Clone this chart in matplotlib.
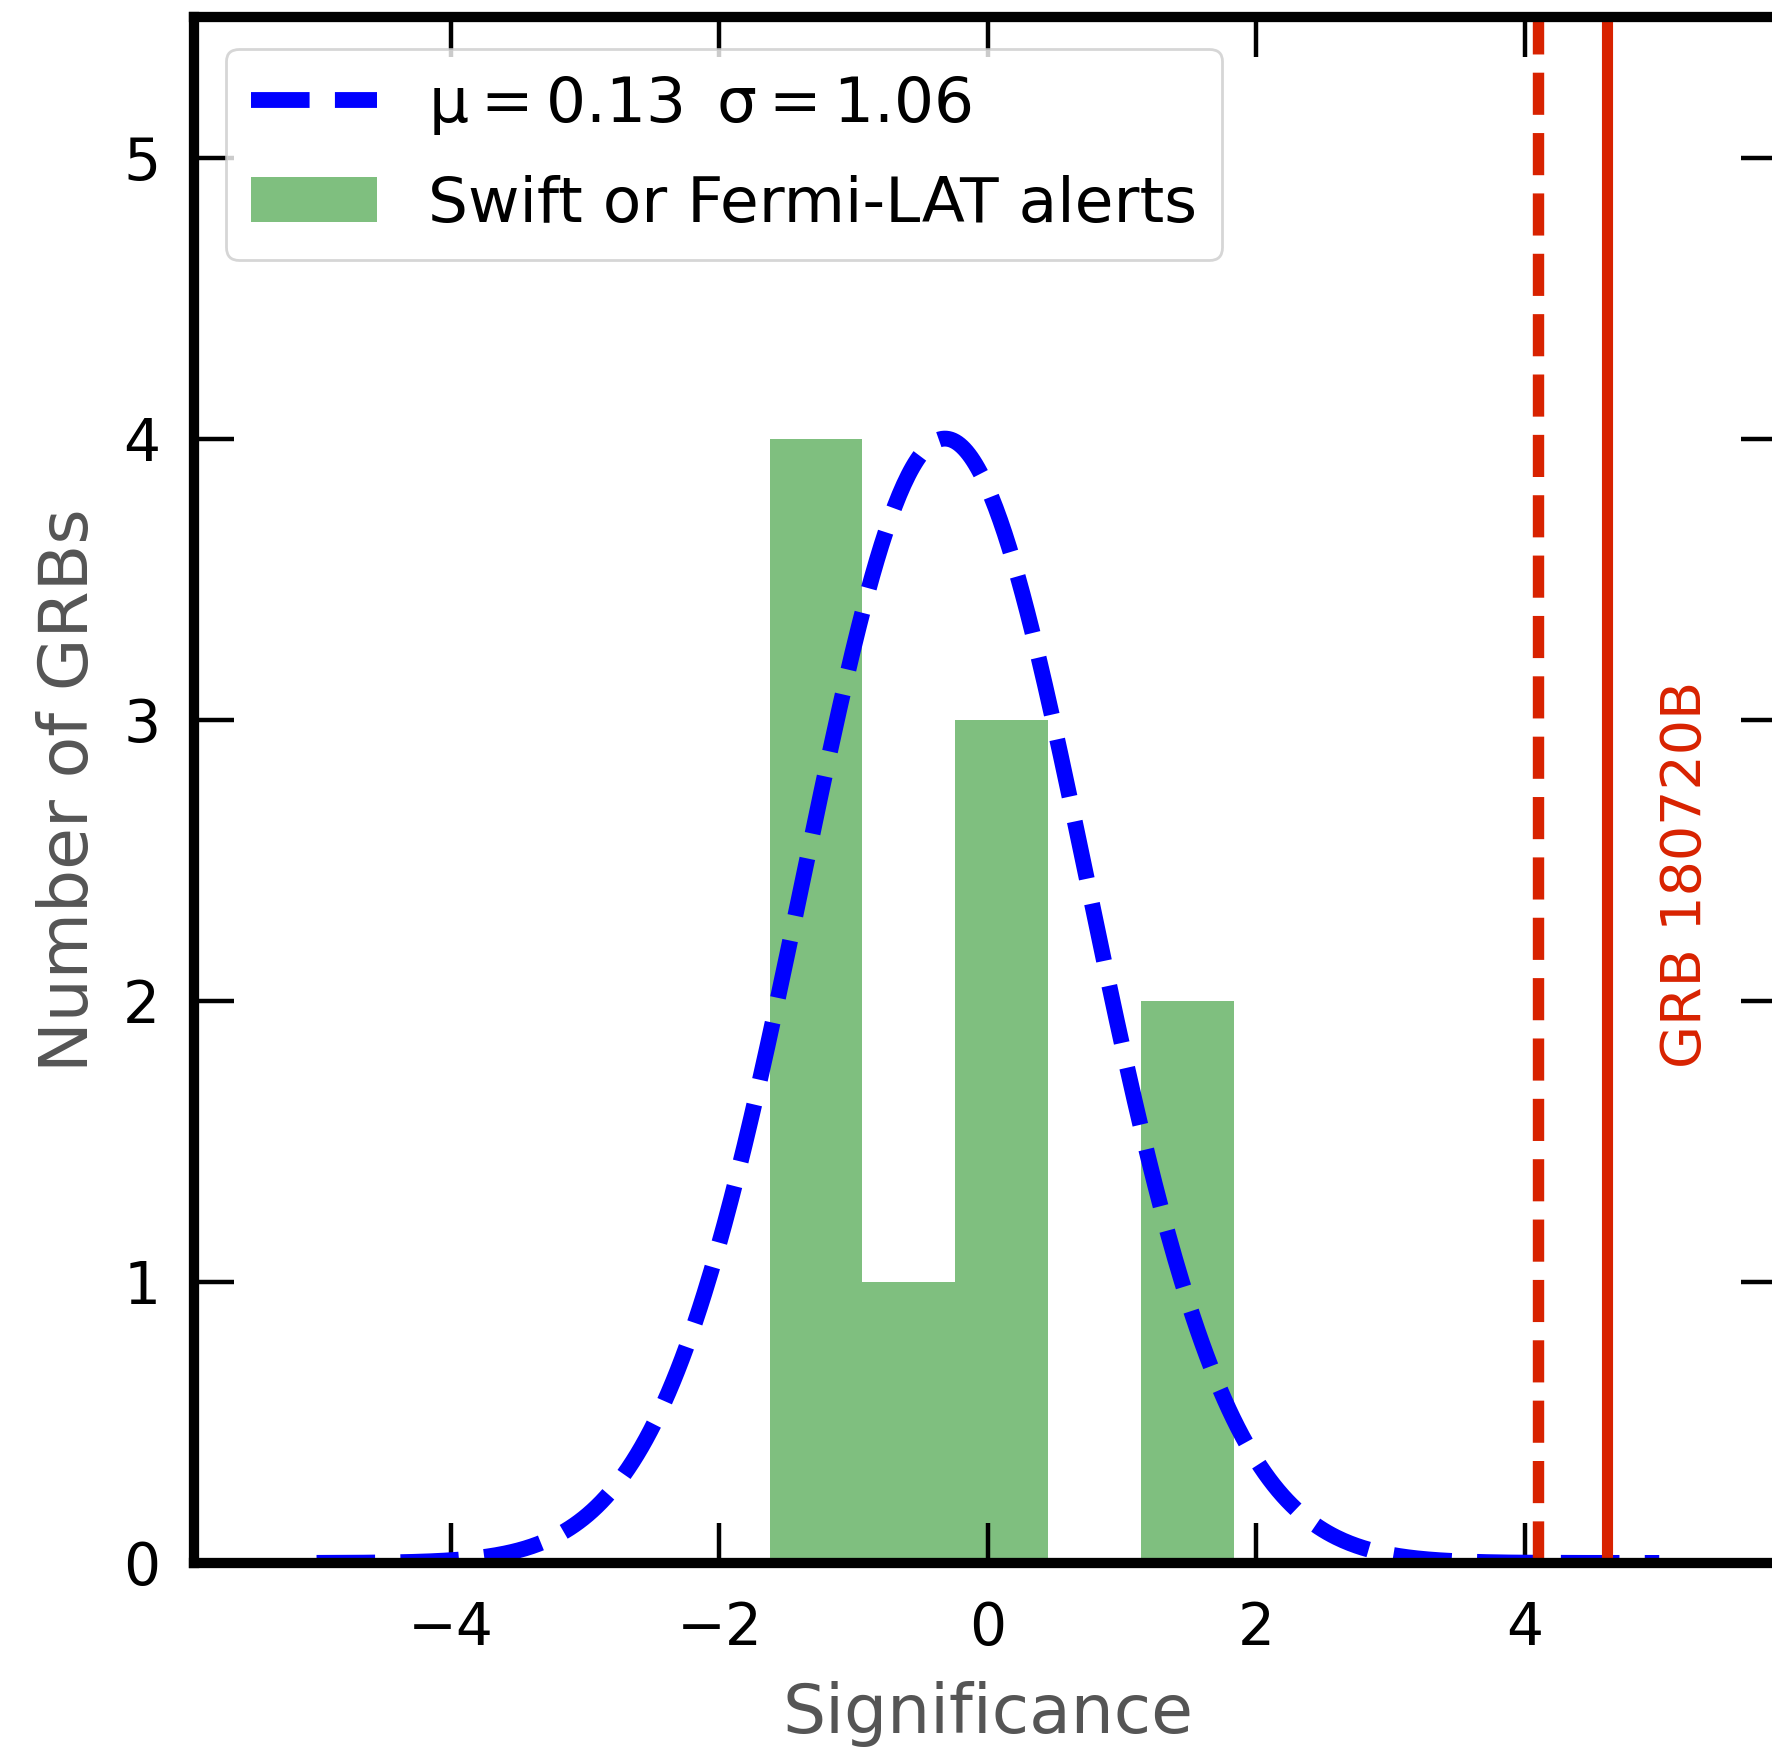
import numpy as np
import matplotlib
matplotlib.use('Agg')
import matplotlib.pyplot as plt

# ---- data ----
bin_edges = [-1.625, -0.934, -0.243, 0.448, 1.139, 1.830]
counts = [4, 1, 3, 0, 2]
fit_label_mu = 0.13
fit_sigma = 1.06
curve_center = -0.32
curve_amp = 4.0
curve_range = [-5.0, 5.0]
threshold_sig = 4.10      # dashed red line
grb_sig = 4.61            # solid red line
grb_name = 'GRB 180720B'
xticks = [-4, -2, 0, 2, 4]
yticks = [0, 1, 2, 3, 4, 5]

RED = '#d82200'

fig = plt.figure(figsize=(8.86, 8.75), dpi=200)
ax = fig.add_axes([0.1097, 0.1069, 0.8956, 0.8834])

centers = [(a + b) / 2 for a, b in zip(bin_edges[:-1], bin_edges[1:])]
_, _, patches = ax.hist(centers, bins=bin_edges, weights=counts, color='g',
                        alpha=0.5, label='Swift or Fermi-LAT alerts')

xs = np.linspace(curve_range[0], curve_range[1], 600)
ys = curve_amp * np.exp(-(xs - curve_center) ** 2 / (2 * fit_sigma ** 2))
line, = ax.plot(xs, ys, 'b--', lw=5.7,
                label=r'$\mathregular{\mu = %.2f\ \,\sigma = %.2f}$'
                      % (fit_label_mu, fit_sigma))

ax.axvline(threshold_sig, color=RED, ls='--', lw=4.1)
ax.axvline(grb_sig, color=RED, ls='-', lw=4.0)
ax.text(5.2, 2.45, grb_name, color=RED, rotation=90, ha='center',
        va='center', fontsize=20)

ax.set_xlim(-5.91, 5.91)
ax.set_ylim(0, 5.5)
ax.set_xticks(xticks)
ax.set_yticks(yticks)

for s in ax.spines.values():
    s.set_linewidth(3.7)
ax.tick_params(direction='in', length=14.4, width=1.6, labelsize=21,
               top=True, right=True)
ax.tick_params(axis='x', pad=13.5)
ax.tick_params(axis='y', pad=12.3)

ax.set_xlabel('Significance', fontsize=24.5, color='#555555', labelpad=8.5)
ax.set_ylabel('Number of GRBs', fontsize=24.5, color='#555555', labelpad=7.5)

ax.legend([line, patches[0]],
          [line.get_label(), 'Swift or Fermi-LAT alerts'],
          loc='upper left', fontsize=22.7, labelspacing=0.6)

fig.savefig('out.png', dpi=200)
